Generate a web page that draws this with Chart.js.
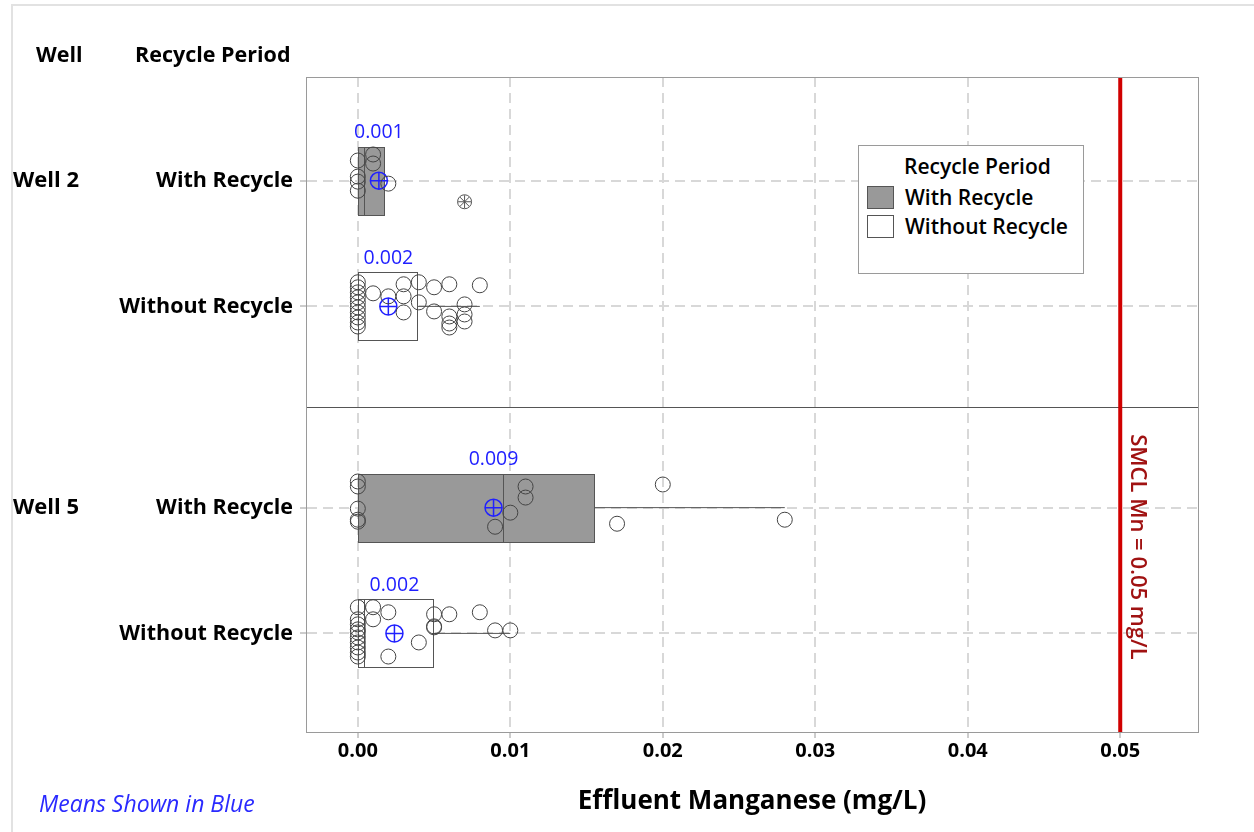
<!DOCTYPE html>
<html>
<head>
<meta charset="utf-8">
<script src="https://cdn.jsdelivr.net/npm/chart.js@4"></script>
<style>
  body { margin: 0; background: #fff; font-family: "Open Sans", "Noto Sans", sans-serif; }
  #wrap { position: relative; width: 1254px; height: 832px; overflow: hidden; }
  #frame { position: absolute; left: 11px; top: 4px; width: 1260px; height: 840px;
           border-top: 2px solid #e2e2e2; border-left: 2px solid #e2e2e2; }
  canvas { position: absolute; left: 0; top: 0; }
  .lbl { position: absolute; font-weight: 700; font-size: 21.5px; color: #000; white-space: nowrap; line-height: 1; }
  #note { position: absolute; left: 39px; top: 790px; font-style: italic; font-size: 23px; color: #2a2aff; white-space: nowrap; line-height: 1.2; }
  #legend { position: absolute; left: 858px; top: 145px; width: 224px; height: 127px;
            border: 1px solid #9a9a9a; background: #fff; font-size: 21px; font-weight: 600; line-height: 1.2; }
  #legend .t { position: absolute; left: 45px; top: 8px; white-space: nowrap; }
  #legend .row { position: absolute; left: 8px; white-space: nowrap; }
  #legend .sw { display: inline-block; width: 25px; height: 21px; border: 1px solid #555;
                vertical-align: -4px; margin-right: 11px; }
</style>
</head>
<body>
<div id="wrap">
  <div id="frame"></div>
  <canvas id="boxChart" width="1254" height="832"></canvas>
  <div class="lbl" style="left:36px; top:43px;">Well</div>
  <div class="lbl" style="left:135px; top:43px;">Recycle Period</div>
  <div id="note">Means Shown in Blue</div>
  <div id="legend">
    <div class="t">Recycle Period</div>
    <div class="row" style="top:39px;"><span class="sw" style="background:#999"></span>With Recycle</div>
    <div class="row" style="top:68px;"><span class="sw" style="background:#fff"></span>Without Recycle</div>
  </div>
</div>
<script>
// groups, top to bottom
const wells = ["Well 2", "Well 5"];
const wellPos = [1, 4.25];
const periods = ["With Recycle", "Without Recycle", "With Recycle", "Without Recycle"];
const groupPos = [1, 2.25, 4.25, 5.5];
const panelSplit = 3.25;
const withRecycle = [true, false, true, false];

// box summary (mg/L)
const q1 = [0, 0, 0, 0];
const medians = [0.0004, 0, 0.0095, 0.0004];
const q3 = [0.0017, 0.0039, 0.0155, 0.0049];
const whiskerHi = [0.002, 0.008, 0.028, 0.010];
const means = [0.00138, 0.0020, 0.0089, 0.0024];

const xTicks = [0, 0.01, 0.02, 0.03, 0.04, 0.05];
const smcl = 0.05;

// individual values, [mg/L, jittered row position]
const well2With = [[0, 0.80], [0.001, 0.74], [0.001, 0.83], [0, 0.96], [0, 1.01], [0, 1.10], [0.002, 1.03]];
const well2WithOutlier = [[0.007, 1.21]];
const well2Without = [
  [0, 2.01], [0, 2.06], [0, 2.11], [0, 2.16], [0, 2.21], [0, 2.26], [0, 2.31], [0, 2.36], [0, 2.41], [0, 2.45],
  [0.001, 2.12], [0.002, 2.15], [0.003, 2.03], [0.003, 2.15], [0.003, 2.31], [0.004, 2.01], [0.004, 2.21],
  [0.005, 2.06], [0.005, 2.30], [0.006, 2.03], [0.006, 2.35], [0.006, 2.42], [0.006, 2.46],
  [0.007, 2.23], [0.007, 2.33], [0.007, 2.40], [0.008, 2.04]
];
const well5With = [
  [0, 3.99], [0, 4.04], [0, 4.26], [0, 4.37], [0, 4.39], [0.011, 4.04], [0.011, 4.15],
  [0.010, 4.30], [0.009, 4.44], [0.020, 4.02], [0.017, 4.41], [0.028, 4.37]
];
const well5Without = [
  [0, 5.24], [0, 5.36], [0, 5.41], [0, 5.46], [0, 5.49], [0, 5.54], [0, 5.59], [0, 5.64], [0, 5.69], [0, 5.73],
  [0.001, 5.24], [0.001, 5.36], [0.002, 5.29], [0.004, 5.59], [0.002, 5.73], [0.005, 5.31], [0.005, 5.43],
  [0.005, 5.44], [0.006, 5.31], [0.008, 5.29], [0.009, 5.47], [0.010, 5.47]
];

const toXY = (arr) => arr.map(([x, y]) => ({ x, y }));
const meanPts = means.map((m, i) => ({ x: m, y: groupPos[i] }));

const boxHalf = 0.338;
const gridColor = "#d8d8d8";
const axisColor = "#9a9a9a";
const FONT = "'Open Sans', sans-serif";

function pointSet(data, extra) {
  return Object.assign({
    data: toXY(data),
    pointStyle: "circle",
    pointRadius: 7.5,
    borderColor: "#444",
    borderWidth: 1,
    backgroundColor: "rgba(0,0,0,0)",
  }, extra || {});
}

// boxes, whiskers and medians under the points
const boxPlugin = {
  id: "boxes",
  beforeDatasetsDraw(chart) {
    const { ctx, scales: { x, y }, chartArea } = chart;
    ctx.save();
    groupPos.forEach((pos, i) => {
      const top = Math.round(y.getPixelForValue(pos - boxHalf));
      const bot = Math.round(y.getPixelForValue(pos + boxHalf));
      const mid = y.getPixelForValue(pos);
      const xl = Math.round(x.getPixelForValue(q1[i]));
      const xr = Math.round(x.getPixelForValue(q3[i]));
      const xm = Math.round(x.getPixelForValue(medians[i]));
      const xw = x.getPixelForValue(whiskerHi[i]);
      ctx.strokeStyle = "#555";
      ctx.lineWidth = 1;
      // whisker
      ctx.beginPath();
      ctx.moveTo(xr, mid);
      ctx.lineTo(xw, mid);
      ctx.stroke();
      ctx.fillStyle = withRecycle[i] ? "#999999" : "#ffffff";
      ctx.fillRect(xl, top, xr - xl, bot - top);
      ctx.strokeRect(xl + 0.5, top + 0.5, xr - xl, bot - top);
      ctx.beginPath();
      ctx.moveTo(xm + 0.5, top);
      ctx.lineTo(xm + 0.5, bot);
      ctx.stroke();
    });
    // panel divider
    const ys = Math.round(y.getPixelForValue(panelSplit)) + 0.5;
    ctx.strokeStyle = "#555";
    ctx.beginPath();
    ctx.moveTo(chartArea.left, ys);
    ctx.lineTo(chartArea.right, ys);
    ctx.stroke();
    ctx.restore();
  },
  afterDatasetsDraw(chart) {
    const { ctx, scales: { x, y }, chartArea } = chart;
    ctx.save();
    // mean labels
    ctx.fillStyle = "#2020ff";
    ctx.font = "19.5px " + FONT;
    ctx.textAlign = "center";
    ctx.textBaseline = "middle";
    means.forEach((m, i) => {
      ctx.fillText(m.toFixed(3), x.getPixelForValue(m), y.getPixelForValue(groupPos[i] - boxHalf) - 14);
    });
    // SMCL reference line
    const xs = x.getPixelForValue(smcl);
    ctx.strokeStyle = "#d00000";
    ctx.lineWidth = 4;
    ctx.beginPath();
    ctx.moveTo(xs, chartArea.top);
    ctx.lineTo(xs, chartArea.bottom);
    ctx.stroke();
    ctx.translate(xs + 17, y.getPixelForValue(4.64));
    ctx.rotate(Math.PI / 2);
    ctx.fillStyle = "#a01212";
    ctx.font = "600 22px " + FONT;
    ctx.fillText("SMCL Mn = " + smcl + " mg/L", 0, 0);
    ctx.restore();
    // frame of the plot area
    ctx.save();
    ctx.strokeStyle = axisColor;
    ctx.lineWidth = 1;
    ctx.strokeRect(chartArea.left + 0.5, chartArea.top + 0.5, chartArea.right - chartArea.left, chartArea.bottom - chartArea.top);
    ctx.restore();
  }
};

const gridOpts = { color: gridColor, lineWidth: 2, tickLength: 6, tickColor: axisColor, tickWidth: 1, tickBorderDash: [] };
const borderOpts = { display: true, color: axisColor, width: 1, dash: [10, 6] };

new Chart(document.getElementById("boxChart"), {
  type: "scatter",
  data: {
    datasets: [
      pointSet(well2With),
      pointSet(well2Without),
      pointSet(well5With),
      pointSet(well5Without),
      pointSet(well2WithOutlier, { pointRadius: 7, borderColor: "#555" }),
      pointSet(well2WithOutlier, { pointStyle: "star", pointRadius: 6.5, borderColor: "#555" }),
      { data: meanPts, pointStyle: "circle", pointRadius: 8.5, borderColor: "#2020ff", borderWidth: 1.5, backgroundColor: "rgba(0,0,0,0)" },
      { data: meanPts, pointStyle: "cross", pointRadius: 8.5, borderColor: "#2020ff", borderWidth: 1.5 },
    ],
  },
  options: {
    responsive: false,
    animation: false,
    devicePixelRatio: 1,
    layout: { padding: { left: 13, top: 77, right: 56, bottom: 0 } },
    plugins: { legend: { display: false }, tooltip: { enabled: false } },
    scales: {
      x: {
        type: "linear",
        min: -0.0034,
        max: 0.0551,
        afterBuildTicks: (s) => { s.ticks = xTicks.map((v) => ({ value: v })); },
        afterFit: (s) => { s.height = 100; },
        ticks: {
          callback: (v) => Number(v).toFixed(2),
          color: "#000",
          padding: 1,
          font: { family: FONT, size: 20, weight: "700" },
        },
        grid: gridOpts,
        border: borderOpts,
        title: {
          display: true,
          text: "Effluent Manganese (mg/L)",
          color: "#000",
          padding: { top: 0, bottom: 15 },
          font: { family: FONT, size: 26, weight: "700" },
        },
      },
      y: {
        type: "linear",
        position: "left",
        min: -0.03,
        max: 6.48,
        reverse: true,
        weight: 0,
        afterBuildTicks: (s) => { s.ticks = groupPos.map((v) => ({ value: v })); },
        afterFit: (s) => { s.width = 206; },
        ticks: {
          callback: (v, i) => periods[i],
          color: "#000",
          padding: 7,
          font: { family: FONT, size: 21.5, weight: "700" },
        },
        grid: gridOpts,
        border: borderOpts,
      },
      yWell: {
        type: "linear",
        position: "left",
        min: -0.03,
        max: 6.48,
        reverse: true,
        weight: 1,
        afterBuildTicks: (s) => { s.ticks = wellPos.map((v) => ({ value: v })); },
        afterFit: (s) => { s.width = 87; },
        ticks: {
          callback: (v, i) => wells[i],
          color: "#000",
          crossAlign: "far",
          font: { family: FONT, size: 22, weight: "700" },
        },
        grid: { display: false },
        border: { display: false },
      },
    },
  },
  plugins: [boxPlugin],
});
</script>
</body>
</html>
